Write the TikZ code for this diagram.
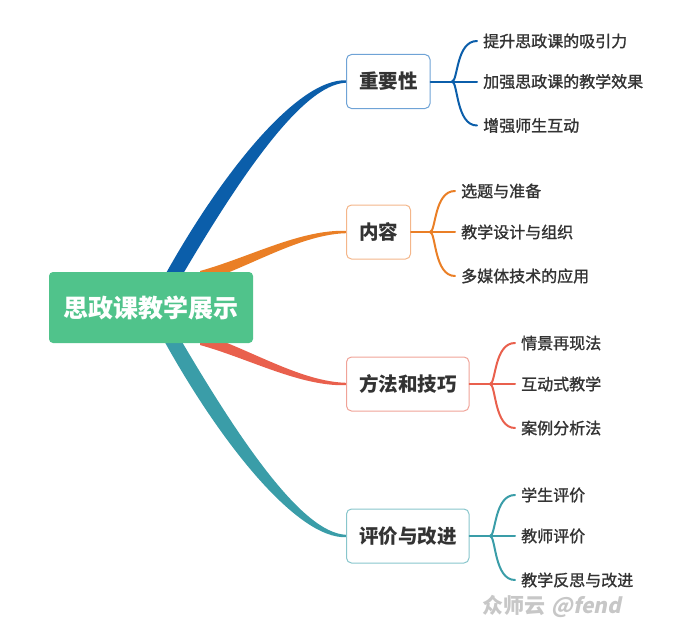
\documentclass[tikz,border=0pt]{standalone}
\usepackage{fontspec}
\setmainfont{Noto Sans CJK SC}
\newfontfamily\leaffont{Noto Sans CJK SC}[FakeBold=1.3]
\newfontfamily\slantfont{Noto Sans CJK SC}[FakeSlant=0.2]
\usetikzlibrary{calc,backgrounds}
\definecolor{cblue}{HTML}{0B5EAA}
\definecolor{cblueB}{HTML}{6FA3D6}
\definecolor{corange}{HTML}{EA7F26}
\definecolor{corangeB}{HTML}{F4B68A}
\definecolor{cred}{HTML}{E9604D}
\definecolor{credB}{HTML}{F0A398}
\definecolor{cteal}{HTML}{3A9DA8}
\definecolor{ctealB}{HTML}{88C6CC}
\definecolor{cgreen}{HTML}{50C38B}
\definecolor{ctext}{HTML}{333333}
\tikzset{
  rootbox/.style={fill=cgreen, rounded corners=4pt, minimum width=204pt, minimum height=71pt,
    text=white, font=\fontsize{25}{25}\selectfont\bfseries, inner sep=0pt},
  mainbox/.style={draw=#1, fill=white, line width=1pt, rounded corners=5pt, minimum height=54pt,
    inner xsep=12.5pt, inner ysep=0pt, anchor=west, text=ctext, font=\fontsize{19.5}{19.5}\selectfont\bfseries},
  leaf/.style={anchor=west, inner xsep=6pt, inner ysep=2pt, text=ctext, font=\fontsize{16}{16}\leaffont},
  br/.style={draw=#1, line width=2pt, line cap=round},
}
\begin{document}
\begin{tikzpicture}[x=1pt,y=-1pt]
\useasboundingbox (0,0) rectangle (693,626);
% root
\node[rootbox] (root) at (151,307.5) {思政课教学展示};
% main boxes
\node[mainbox=cblueB] (b1) at (346,81.5) {重要性};
\node[mainbox=corangeB] (b2) at (346,232) {内容};
\node[mainbox=credB] (b3) at (346,384) {方法和技巧};
\node[mainbox=ctealB] (b4) at (346,536) {评价与改进};
% junctions
\coordinate (j1) at (452,81.5);
\coordinate (j2) at (430,232);
\coordinate (j3) at (490,384);
\coordinate (j4) at (490,536);
% leaves
\node[leaf] (l11) at (477,41) {提升思政课的吸引力};
\node[leaf] (l12) at (477,81.5) {加强思政课的教学效果};
\node[leaf] (l13) at (477,125.5) {增强师生互动};
\node[leaf] (l21) at (455,191) {选题与准备};
\node[leaf] (l22) at (455,232) {教学设计与组织};
\node[leaf] (l23) at (455,276) {多媒体技术的应用};
\node[leaf] (l31) at (515,343) {情景再现法};
\node[leaf] (l32) at (515,384) {互动式教学};
\node[leaf] (l33) at (515,428) {案例分析法};
\node[leaf] (l41) at (515,495) {学生评价};
\node[leaf] (l42) at (515,536) {教师评价};
\node[leaf] (l43) at (515,580) {教学反思与改进};
% watermark
\node[text=black!22, font=\fontsize{21}{21}\selectfont\bfseries, anchor=west, inner sep=0pt] (wm) at (482,606) {众师云\hspace{6pt}{\slantfont @fend}};
\begin{scope}[on background layer]
% tapered main connectors
\fill[cblue] (159.5,285) .. controls (221,172) and (298,78.5) .. ($(b1.west)+(0,-1.2)$)
  -- ($(b1.west)+(0,1.2)$) .. controls (302,84.5) and (239,178) .. (176.5,285) -- cycle;
\fill[corange] (200,271) .. controls (250,257) and (300,229.5) .. ($(b2.west)+(0,-1.2)$)
  -- ($(b2.west)+(0,1.2)$) .. controls (300,234.5) and (250,267) .. (200,283) -- cycle;
\fill[cred] (200,345) .. controls (250,359) and (300,386.5) .. ($(b3.west)+(0,1.2)$)
  -- ($(b3.west)+(0,-1.2)$) .. controls (300,381.5) and (250,349) .. (200,333) -- cycle;
\fill[cteal] (159.5,332.5) .. controls (221,445.5) and (298,539) .. ($(b4.west)+(0,1.2)$)
  -- ($(b4.west)+(0,-1.2)$) .. controls (302,533) and (239,439.5) .. (176.5,332.5) -- cycle;
\end{scope}
% branch lines
\foreach \b/\j/\c in {b1/j1/cblue, b2/j2/corange, b3/j3/cred, b4/j4/cteal}{
  \draw[br=\c] (\b.east) -- (\j);
}
\foreach \j/\a/\m/\z/\c in {j1/l11/l12/l13/cblue, j2/l21/l22/l23/corange, j3/l31/l32/l33/cred, j4/l41/l42/l43/cteal}{
  \draw[br=\c] (\j) -- (\m.west);
  \draw[br=\c] (\j) .. controls ($(\j)+(6,0)$) and ($(\j |- \a.west)+(4,0)$) .. (\a.west);
  \draw[br=\c] (\j) .. controls ($(\j)+(6,0)$) and ($(\j |- \z.west)+(4,0)$) .. (\z.west);
}
\end{tikzpicture}
\end{document}
